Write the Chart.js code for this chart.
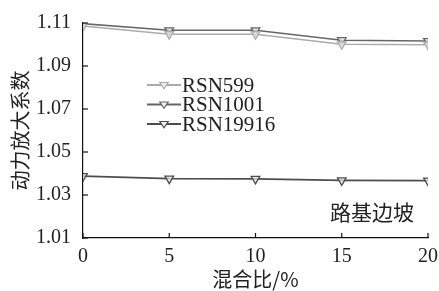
<!DOCTYPE html>
<html><head><meta charset="utf-8">
<script src="https://cdn.jsdelivr.net/npm/chart.js@4"></script>
<style>html,body{margin:0;padding:0;background:#fff}#c{display:block}</style>
</head><body>
<div style="width:439px;height:291px"><canvas id="c" width="439" height="291"></canvas></div>
<script>
const mixRatio = [0, 5, 10, 15, 20];
const rsn599 = [1.1086, 1.1048, 1.1048, 1.1001, 1.0999];
const rsn1001 = [1.1097, 1.1066, 1.1066, 1.1020, 1.1016];
const rsn19916 = [1.0388, 1.0376, 1.0375, 1.0368, 1.0367];
const seriesNames = ['RSN599', 'RSN1001', 'RSN19916'];
const yTicks = [1.01, 1.03, 1.05, 1.07, 1.09, 1.11];
const xTicks = [0, 5, 10, 15, 20];
const yTitle = '动力放大系数';
const xTitle = '混合比/%';
const note = '路基边坡';

const colors = ['#ababab', '#666666', '#4d4d4d'];
const serif = "'Liberation Serif','DejaVu Serif',serif";
const cjk = "'Noto Sans CJK SC','Noto Sans',sans-serif";

function mk(name, vals, col) {
  return {
    label: name,
    data: mixRatio.map((x, i) => ({x, y: vals[i]})),
    borderColor: col, backgroundColor: '#fff', borderWidth: 1.6,
    pointStyle: 'triangle', rotation: 180, pointRadius: 5, pointBorderWidth: 1.3,
    pointBorderColor: col, pointBackgroundColor: 'rgba(235,235,235,0.7)', tension: 0
  };
}

const extras = {
  id: 'extras',
  afterDraw(chart) {
    const ctx = chart.ctx, xs = chart.scales.x, ys = chart.scales.y, a = chart.chartArea;
    ctx.save();
    ctx.strokeStyle = '#111'; ctx.lineWidth = 1.2;
    xTicks.forEach(v => { const px = xs.getPixelForValue(v); ctx.beginPath(); ctx.moveTo(px, a.bottom); ctx.lineTo(px, a.bottom - 5); ctx.stroke(); });
    yTicks.forEach(v => { const py = ys.getPixelForValue(v); ctx.beginPath(); ctx.moveTo(a.left, py); ctx.lineTo(a.left + 5, py); ctx.stroke(); });
    // legend
    const lx = 147, ly0 = 85, dy = 19.5;
    chart.data.datasets.forEach((ds, i) => {
      const y = ly0 + i * dy;
      ctx.strokeStyle = ds.borderColor; ctx.lineWidth = 2;
      ctx.beginPath(); ctx.moveTo(lx, y); ctx.lineTo(lx + 34, y); ctx.stroke();
      const cx = lx + 17, r = 4.2;
      ctx.lineWidth = 1.2; ctx.fillStyle = '#eee';
      ctx.beginPath(); ctx.moveTo(cx - r, y - r * 0.6); ctx.lineTo(cx + r, y - r * 0.6); ctx.lineTo(cx, y + r * 0.9); ctx.closePath(); ctx.fill(); ctx.stroke();
      ctx.fillStyle = '#222'; ctx.font = '21px ' + serif; ctx.textBaseline = 'middle'; ctx.textAlign = 'left';
      ctx.fillText(ds.label, lx + 35, y + 1);
    });
    ctx.font = '21px ' + cjk; ctx.fillStyle = '#222'; ctx.textAlign = 'center'; ctx.textBaseline = 'middle';
    ctx.fillText(note, 372, 212);
    ctx.restore();
  }
};

new Chart(document.getElementById('c'), {
  type: 'line',
  data: { datasets: [mk(seriesNames[0], rsn599, colors[0]), mk(seriesNames[1], rsn1001, colors[1]), mk(seriesNames[2], rsn19916, colors[2])] },
  options: {
    responsive: false, animation: false, devicePixelRatio: 1,
    layout: { padding: { top: 23, right: 11, left: 8, bottom: 0 } },
    plugins: { legend: { display: false }, tooltip: { enabled: false } },
    scales: {
      x: {
        type: 'linear', min: 0, max: 20,
        afterBuildTicks: s => { s.ticks = xTicks.map(v => ({value: v})); },
        grid: { display: false }, border: { display: true, color: '#111', width: 1.2 },
        ticks: { color: '#222', font: { family: serif, size: 20 }, padding: -1, maxRotation: 0 },
        title: { display: true, text: xTitle, color: '#222', font: { family: cjk, size: 20 }, padding: { top: 0, bottom: 0 } },
        afterFit: s => { s.height = 53; }
      },
      y: {
        min: 1.01, max: 1.11,
        afterBuildTicks: s => { s.ticks = yTicks.map(v => ({value: v})); },
        grid: { display: false }, border: { display: true, color: '#111', width: 1.2 },
        ticks: { color: '#222', font: { family: serif, size: 20 }, padding: 4, callback: v => v.toFixed(2) },
        title: { display: true, text: yTitle, color: '#222', font: { family: cjk, size: 20 }, padding: { top: 0, bottom: 4 } },
        afterFit: s => { s.width = 75; }
      }
    }
  },
  plugins: [extras]
});
</script>
</body></html>
